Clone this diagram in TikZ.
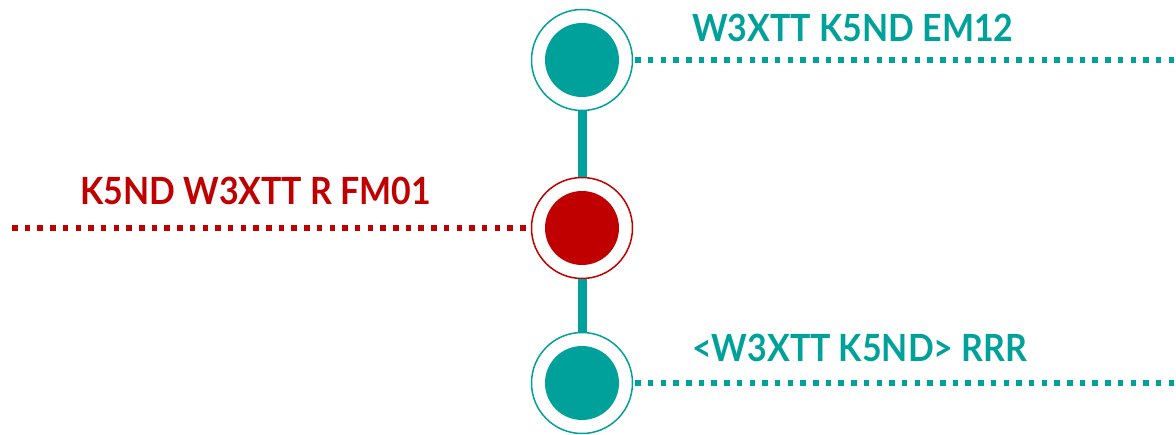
\documentclass[tikz,border=0pt]{standalone}
\usepackage{fontspec}
\setmainfont{Lato}
\newfontfamily\msgfont{Lato}[FakeStretch=0.905]
\usetikzlibrary{positioning}
\definecolor{qsoteal}{HTML}{00A19A}
\definecolor{qsored}{HTML}{C00000}
\tikzset{
  ring/.style={circle, draw=#1, line width=1.5pt, fill=white, minimum size=101pt, inner sep=0pt},
  dot/.style={circle, fill=#1, minimum size=74pt, inner sep=0pt},
  dotline/.style={draw=#1, line width=5.5pt, dash pattern=on 5.5pt off 7.2pt},
  msg/.style={font=\msgfont\bfseries\fontsize{37.5}{40}\selectfont, text=#1, inner sep=0pt, anchor=base west}
}
\begin{document}
\begin{tikzpicture}[x=1pt, y=-1pt, line cap=butt]
\def\xc{582}
\useasboundingbox (0,0) rectangle (1176,435);
\node[ring=qsoteal] (top) at (\xc,60) {};
\node[ring=qsored] (mid) at (\xc,228) {};
\node[ring=qsoteal] (bot) at (\xc,383) {};
\draw[qsoteal, line width=9pt] (top) -- (mid) (mid) -- (bot);
\foreach \n/\c in {top/qsoteal, mid/qsored, bot/qsoteal}
  \node[dot=\c] at (\n) {};
% dotted message lines
\coordinate (topend) at (1176,60);
\coordinate (botend) at (1176,383);
\coordinate (redend) at (12,228);
\draw[dotline=qsoteal, shorten <=2pt] (top.east) -- (topend);
\draw[dotline=qsoteal, shorten <=2pt] (bot.east) -- (botend);
\draw[dotline=qsored, shorten >=2pt] (redend) -- (mid.west);
\node[msg=qsoteal] (topmsg) at (692,42) {W3XTT K5ND EM12};
\node[msg=qsored] (midmsg) at (80,205) {K5ND W3XTT R FM01};
\node[msg=qsoteal] (botmsg) at (692,362) {<W3XTT K5ND> RRR};
\end{tikzpicture}
\end{document}
